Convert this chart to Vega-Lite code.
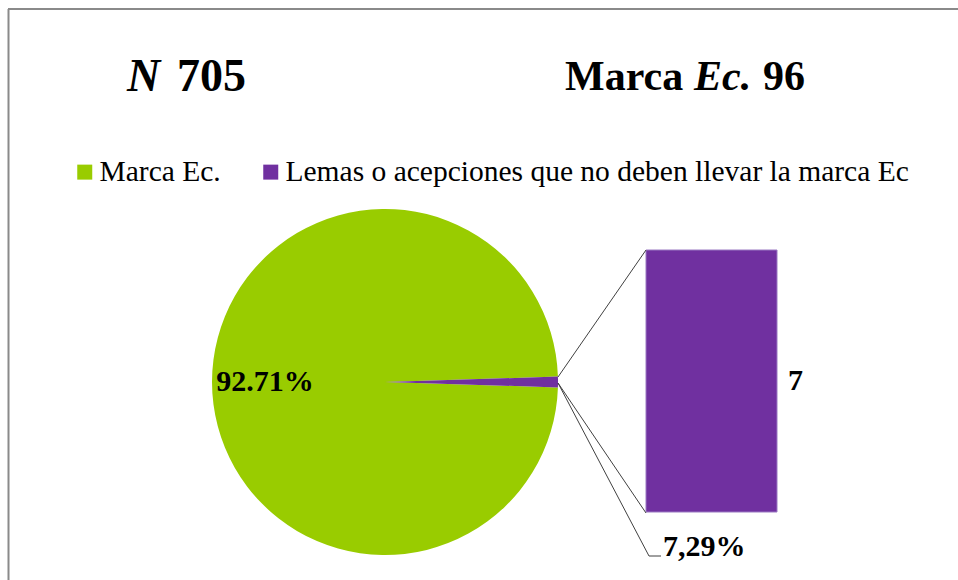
{
  "$schema": "https://vega.github.io/schema/vega-lite/v6.json",
  "width": 958,
  "height": 580,
  "autosize": "none",
  "padding": 0,
  "background": "white",
  "config": {"view": {"stroke": null}, "font": "Liberation Serif"},
  "datasets": {
    "pie": [
      {"cat": "Marca Ec.", "value": 698, "pct": "92.71%"},
      {"cat": "Lemas o acepciones que no deben llevar la marca Ec", "value": 7, "pct": "7,29%"}
    ],
    "bar": [
      {"part": "Desglose", "cat": "Lemas o acepciones que no deben llevar la marca Ec", "value": 7, "pct": "7,29%"}
    ],
    "one": [{}]
  },
  "layer": [
    {"data": {"name": "one"}, "mark": {"type": "rule", "stroke": "#8a8a8a", "strokeWidth": 2}, "encoding": {"x": {"value": 8}, "y": {"value": 9}, "x2": {"value": 958}, "y2": {"value": 9}}},
    {"data": {"name": "one"}, "mark": {"type": "rule", "stroke": "#8a8a8a", "strokeWidth": 2}, "encoding": {"x": {"value": 8.5}, "y": {"value": 9}, "x2": {"value": 8.5}, "y2": {"value": 580}}},
    {"data": {"name": "one"}, "mark": {"type": "text", "text": "N", "x": 127, "y": 91, "align": "left", "baseline": "alphabetic", "font": "Liberation Serif", "fontSize": 46, "fontWeight": "bold", "fontStyle": "italic", "color": "black"}, "encoding": {}},
    {"data": {"name": "one"}, "mark": {"type": "text", "text": "705", "x": 177, "y": 91, "align": "left", "baseline": "alphabetic", "font": "Liberation Serif", "fontSize": 46, "fontWeight": "bold", "color": "black"}, "encoding": {}},
    {"data": {"name": "one"}, "mark": {"type": "text", "text": "Marca", "x": 565, "y": 90, "align": "left", "baseline": "alphabetic", "font": "Liberation Serif", "fontSize": 42, "fontWeight": "bold", "color": "black"}, "encoding": {}},
    {"data": {"name": "one"}, "mark": {"type": "text", "text": "Ec.", "x": 694, "y": 90, "align": "left", "baseline": "alphabetic", "font": "Liberation Serif", "fontSize": 42, "fontWeight": "bold", "fontStyle": "italic", "color": "black"}, "encoding": {}},
    {"data": {"name": "one"}, "mark": {"type": "text", "text": "96", "x": 763, "y": 90, "align": "left", "baseline": "alphabetic", "font": "Liberation Serif", "fontSize": 42, "fontWeight": "bold", "color": "black"}, "encoding": {}},
    {
      "data": {"name": "pie"},
      "mark": {"type": "arc", "x": 385, "y": 382, "radius": 173},
      "encoding": {
        "theta": {"field": "value", "type": "quantitative", "stack": true, "scale": {"type": "linear", "range": [1.539602, 7.822787]}},
        "order": {"field": "value", "type": "quantitative", "sort": "ascending"},
        "color": {
          "field": "cat", "type": "nominal",
          "scale": {"domain": ["Marca Ec.", "Lemas o acepciones que no deben llevar la marca Ec"], "range": ["#99CC00", "#7030A0"]},
          "legend": {
            "orient": "none", "legendX": 70, "legendY": 157, "direction": "horizontal", "title": null,
            "symbolType": "square", "symbolSize": 225, "symbolStrokeWidth": 0, "symbolOpacity": 1,
            "labelFont": "Liberation Serif", "labelFontSize": 29.5, "labelColor": "black", "labelOffset": 0,
            "columnPadding": 35, "padding": 0, "labelLimit": 1000
          }
        }
      }
    },
    {
      "data": {"name": "pie"},
      "mark": {"type": "text", "x": 385, "y": 382, "radius": 120, "font": "Liberation Serif", "fontSize": 30, "fontWeight": "bold", "color": "black", "baseline": "middle", "align": "center"},
      "encoding": {
        "theta": {"field": "value", "type": "quantitative", "stack": true},
        "order": {"field": "value", "type": "quantitative", "sort": "ascending"},
        "text": {"condition": {"test": "datum.cat === 'Marca Ec.'", "field": "pct"}, "value": ""}
      }
    },
    {
      "data": {"name": "bar"},
      "mark": {"type": "bar", "stroke": "#9a78c2", "strokeWidth": 1},
      "encoding": {
        "x": {"field": "part", "type": "nominal", "axis": null, "scale": {"domain": ["Desglose"], "range": [646, 777], "paddingInner": 0, "paddingOuter": 0}},
        "y": {"field": "value", "type": "quantitative", "axis": null, "scale": {"domain": [0, 7], "range": [512, 250]}},
        "color": {"field": "cat", "type": "nominal"}
      }
    },
    {
      "data": {"name": "bar"},
      "mark": {"type": "text", "align": "left", "baseline": "middle", "dx": 11, "font": "Liberation Serif", "fontSize": 30, "fontWeight": "bold", "color": "black"},
      "encoding": {
        "x": {"field": "part", "type": "nominal", "bandPosition": 1},
        "y": {"datum": 3.5, "type": "quantitative"},
        "text": {"field": "value", "type": "quantitative"}
      }
    },
    {
      "data": {"name": "bar"},
      "mark": {"type": "text", "align": "left", "baseline": "alphabetic", "dx": 17, "dy": 44, "font": "Liberation Serif", "fontSize": 30, "fontWeight": "bold", "color": "black"},
      "encoding": {
        "x": {"field": "part", "type": "nominal", "bandPosition": 0},
        "y": {"datum": 0, "type": "quantitative"},
        "text": {"field": "pct", "type": "nominal"}
      }
    },
    {"data": {"name": "one"}, "mark": {"type": "rule", "stroke": "#404040", "strokeWidth": 1}, "encoding": {"x": {"value": 558}, "y": {"value": 377}, "x2": {"value": 646}, "y2": {"value": 250}}},
    {"data": {"name": "one"}, "mark": {"type": "rule", "stroke": "#404040", "strokeWidth": 1}, "encoding": {"x": {"value": 558}, "y": {"value": 383}, "x2": {"value": 646}, "y2": {"value": 513}}},
    {"data": {"name": "one"}, "mark": {"type": "rule", "stroke": "#404040", "strokeWidth": 1}, "encoding": {"x": {"value": 558}, "y": {"value": 383}, "x2": {"value": 649}, "y2": {"value": 556}}},
    {"data": {"name": "one"}, "mark": {"type": "rule", "stroke": "#404040", "strokeWidth": 1}, "encoding": {"x": {"value": 649}, "y": {"value": 556}, "x2": {"value": 661}, "y2": {"value": 556}}}
  ]
}
